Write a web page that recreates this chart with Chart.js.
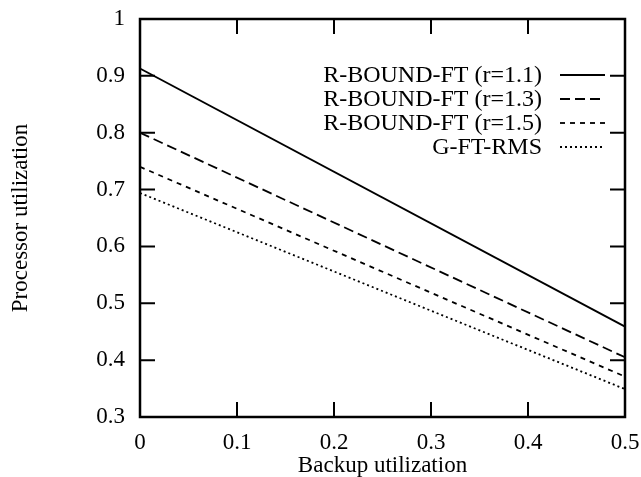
<!DOCTYPE html>
<html>
<head>
<meta charset="utf-8">
<script src="https://cdn.jsdelivr.net/npm/chart.js@4/dist/chart.umd.min.js"></script>
<style>
  html, body { margin: 0; padding: 0; background: #fff; }
  #wrap { width: 641px; height: 477px; }
</style>
</head>
<body>
<div id="wrap"><canvas id="chart" width="641" height="477"></canvas></div>
<script>
// values
const backupUtil = [0, 0.5];
const rBound11 = [0.913, 0.459];
const rBound13 = [0.800, 0.405];
const rBound15 = [0.740, 0.371];
const gFtRms = [0.694, 0.349];

const seriesNames = ['R-BOUND-FT (r=1.1)', 'R-BOUND-FT (r=1.3)', 'R-BOUND-FT (r=1.5)', 'G-FT-RMS'];
const seriesValues = [rBound11, rBound13, rBound15, gFtRms];
const dashes = [[], [10, 5], [5, 5], [2, 3]];

const FONT = 'Liberation Serif, Times New Roman, serif';

const toPoints = (ys) => ys.map((y, i) => ({ x: backupUtil[i], y: y }));
const fmt = (v) => String(Math.round(v * 10) / 10);

// inward ticks on all four sides plus the frame
const frameTicks = {
  id: 'frameTicks',
  afterDraw(chart) {
    const { ctx, chartArea: a, scales } = chart;
    const len = 15;
    ctx.save();
    ctx.strokeStyle = '#000';
    ctx.lineWidth = 2;
    ctx.beginPath();
    scales.x.ticks.forEach(t => {
      const px = scales.x.getPixelForValue(t.value);
      ctx.moveTo(px, a.bottom); ctx.lineTo(px, a.bottom - len);
      ctx.moveTo(px, a.top); ctx.lineTo(px, a.top + len);
    });
    scales.y.ticks.forEach(t => {
      const py = scales.y.getPixelForValue(t.value);
      ctx.moveTo(a.left, py); ctx.lineTo(a.left + len, py);
      ctx.moveTo(a.right, py); ctx.lineTo(a.right - len, py);
    });
    ctx.stroke();
    ctx.lineWidth = 2.5;
    ctx.strokeRect(a.left, a.top, a.right - a.left, a.bottom - a.top);
    ctx.restore();
  }
};

// gnuplot style key: text then sample line
const keyPlugin = {
  id: 'keyPlugin',
  afterDraw(chart) {
    const { ctx, chartArea: a } = chart;
    ctx.save();
    ctx.font = '24px ' + FONT;
    ctx.fillStyle = '#000';
    ctx.textAlign = 'right';
    ctx.textBaseline = 'middle';
    chart.data.datasets.forEach((ds, i) => {
      const y = a.top + 56 + i * 24;
      ctx.fillText(ds.label, a.right - 83, y + 1);
      ctx.strokeStyle = '#000';
      ctx.lineWidth = ds.borderWidth;
      ctx.setLineDash(ds.borderDash);
      ctx.beginPath();
      ctx.moveTo(a.right - 65, y);
      ctx.lineTo(a.right - 20, y);
      ctx.stroke();
    });
    ctx.restore();
  }
};

new Chart(document.getElementById('chart'), {
  type: 'line',
  data: {
    datasets: seriesNames.map((name, i) => ({
      label: name,
      data: toPoints(seriesValues[i]),
      borderColor: '#000',
      borderWidth: 1.8,
      borderDash: dashes[i],
      pointRadius: 0,
      tension: 0,
      fill: false
    }))
  },
  options: {
    responsive: false,
    animation: false,
    layout: { padding: { top: 19, right: 16, bottom: 0, left: 0 } },
    plugins: {
      legend: { display: false },
      tooltip: { enabled: false }
    },
    scales: {
      x: {
        type: 'linear',
        min: 0,
        max: 0.5,
        afterFit(s) { s.height = 60; s.paddingLeft = 0; s.paddingRight = 0; },
        grid: { display: false, drawTicks: false },
        border: { display: false },
        ticks: {
          stepSize: 0.1,
          padding: 12,
          color: '#000',
          font: { family: FONT, size: 23 },
          callback: fmt
        },
        title: {
          display: true,
          text: 'Backup utilization',
          color: '#000',
          font: { family: FONT, size: 23, lineHeight: 1 },
          padding: 0
        }
      },
      y: {
        type: 'linear',
        min: 0.3,
        max: 1,
        afterFit(s) { s.width = 140; s.paddingTop = 0; s.paddingBottom = 0; },
        grid: { display: false, drawTicks: false },
        border: { display: false },
        ticks: {
          stepSize: 0.1,
          padding: 15,
          color: '#000',
          font: { family: FONT, size: 23 },
          callback: fmt
        },
        title: {
          display: true,
          text: 'Processor utilization',
          color: '#000',
          font: { family: FONT, size: 23, lineHeight: 1 },
          padding: { top: 9, bottom: 0 }
        }
      }
    }
  },
  plugins: [frameTicks, keyPlugin]
});
</script>
</body>
</html>
